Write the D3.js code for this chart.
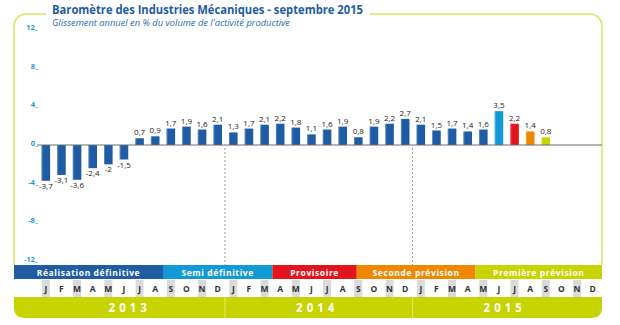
<!DOCTYPE html>
<html><head><meta charset="utf-8">
<script src="https://cdn.jsdelivr.net/npm/d3@7"></script>
<style>
html,body{margin:0;padding:0;background:#fff;}
svg{display:block;}
text{font-family:"Open Sans","Noto Sans",sans-serif;}
</style></head>
<body><svg id="c" width="620" height="325"></svg>
<script>
// ---- data ----
const monthLetters = ["J","F","M","A","M","J","J","A","S","O","N","D"];
const years = ["2013","2014","2015"];
const values2013 = [-3.7,-3.1,-3.6,-2.4,-2,-1.5,0.7,0.9,1.7,1.9,1.6,2.1];
const values2014 = [1.3,1.7,2.1,2.2,1.8,1.1,1.6,1.9,0.8,1.9,2.2,2.7];
const values2015 = [2.1,1.5,1.7,1.4,1.6,3.5,2.2,1.4,0.8];
// status of each 2015 bar (index into statusNames); earlier bars are all definitive
const barStatus2015 = [0,0,0,0,0,1,2,3,4];
const statusNames = ["Réalisation définitive","Semi définitive","Provisoire","Seconde prévision","Première prévision"];
// extent of each status in the legend strip, in months from Jan 2013
const statusStart = [0,8,15,20.4,28];
const statusEnd = [8,15,20.4,28,36];
const yTicks = [12,8,4,0,-4,-8,-12];
const title = "Baromètre des Industries Mécaniques - septembre 2015";
const subtitle = "Glissement annuel en % du volume de l'activité productive";

// ---- styles ----
const statusColors = ["#1f5ca4","#129ad7","#e2151f","#f08700","#c8d400"];
const frameColor = "#dbe35c";

const svg = d3.select("#c");
const months = [];
years.forEach(y => monthLetters.forEach((m,i) => months.push({y, m, i})));
const values = values2013.concat(values2014, values2015);
const status = values2013.map(()=>0).concat(values2014.map(()=>0), barStatus2015);
const bars = values.map((v,i)=>({v, i, s: status[i]}));

const x = d3.scaleBand().domain(d3.range(36)).range([38, 600.5]).paddingInner(0.45).paddingOuter(0.225);
const step = x.step();
const xl = k => x.range()[0] + k*step; // month boundary position
const y = d3.scaleLinear().domain([-12,12]).range([261,29]);

const L = 14, R = 602, T = 14, r = 14;
// frame
svg.append("path")
  .attr("d", `M${L},265 L${L},${T+r} Q${L},${T} ${L+r},${T} L${R-r},${T} Q${R},${T} ${R},${T+r} L${R},265`)
  .attr("fill","none").attr("stroke",frameColor).attr("stroke-width",1.5);

// title
svg.append("rect").attr("x",46).attr("y",0).attr("width",324).attr("height",28).attr("fill","#fff");
svg.append("text").attr("x",52).attr("y",13.5).attr("fill","#1f5ca4").attr("font-weight","bold")
  .attr("font-family","'Liberation Sans',Arial,sans-serif")
  .attr("font-size",13).attr("textLength",311).attr("lengthAdjust","spacingAndGlyphs").text(title);
svg.append("text").attr("x",52).attr("y",26).attr("fill","#1f6cb0").attr("font-style","italic")
  .attr("font-family","'Liberation Sans',Arial,sans-serif")
  .attr("font-size",8.5).attr("textLength",238).attr("lengthAdjust","spacingAndGlyphs").text(subtitle);

// y tick labels
svg.append("g").selectAll("text").data(yTicks).join("text")
  .attr("x",38).attr("y",d=>y(d)+1).attr("text-anchor","end")
  .attr("fill","#1a9ad6").attr("font-weight","bold").attr("font-size",7.5)
  .text(d=>d+"_");

// dashed year separators
[12,24].forEach(k=>{
  svg.append("line").attr("x1",xl(k)-0.5).attr("x2",xl(k)-0.5).attr("y1",y(0)+3).attr("y2",265)
    .attr("stroke","#9a9a9a").attr("stroke-dasharray","2,2").attr("stroke-width",1);
});

// bars
svg.append("g").selectAll("rect").data(bars).join("rect")
  .attr("x",d=>x(d.i)).attr("width",x.bandwidth())
  .attr("y",d=>y(Math.max(0,d.v))).attr("height",d=>Math.abs(y(d.v)-y(0)))
  .attr("fill",d=>statusColors[d.s]);
// light edge
svg.append("g").selectAll("rect").data(bars).join("rect")
  .attr("x",d=>x(d.i)).attr("width",1)
  .attr("y",d=>y(Math.max(0,d.v))).attr("height",d=>Math.abs(y(d.v)-y(0)))
  .attr("fill","#fff").attr("opacity",0.25);

// zero axis
svg.append("line").attr("x1",37).attr("x2",R).attr("y1",y(0)).attr("y2",y(0))
  .attr("stroke","#6d6d6d").attr("stroke-width",1);

// value labels
const fmt = v => String(v).replace(".",",");
svg.append("g").selectAll("text").data(bars).join("text")
  .attr("x",d=>x(d.i)+x.bandwidth()/2)
  .attr("y",d=>d.v>=0 ? y(d.v)-3 : y(d.v)+8)
  .attr("text-anchor","middle").attr("font-size",8).attr("fill","#222")
  .attr("font-family","'Liberation Sans Narrow','Open Sans',sans-serif")
  .text(d=>fmt(d.v));

// status legend strip
const sy = 265, sh = 14;
statusNames.forEach((n,k)=>{
  const x0 = k===0 ? L : xl(statusStart[k]);
  const x1 = k===statusNames.length-1 ? R : xl(statusEnd[k]);
  svg.append("rect").attr("x",x0).attr("y",sy).attr("width",x1-x0).attr("height",sh).attr("fill",statusColors[k]);
  svg.append("text").attr("x",(x0+x1)/2).attr("y",sy+10.5).attr("text-anchor","middle")
    .attr("fill","#fff").attr("font-weight","bold").attr("font-size",8.5).attr("letter-spacing",0.6)
    .text(n);
});

// month row
const my = 280, mh = 17;
svg.append("g").selectAll("rect").data(months.filter(d=>d.i%2===0)).join("rect")
  .attr("x",d=>x(months.indexOf(d))+x.bandwidth()/2-4).attr("width",8)
  .attr("y",my).attr("height",mh).attr("fill","#dadada");
svg.append("g").selectAll("text").data(months).join("text")
  .attr("x",(d,k)=>x(k)+x.bandwidth()/2).attr("y",my+12)
  .attr("text-anchor","middle").attr("font-weight","bold").attr("font-size",8.5).attr("fill","#333")
  .text(d=>d.m);

// year band
const yy = 297, yh = 21, rr = 11;
svg.append("path")
  .attr("d",`M${L},${yy} L${R},${yy} L${R},${yy+yh-rr} Q${R},${yy+yh} ${R-rr},${yy+yh} L${L+rr},${yy+yh} Q${L},${yy+yh} ${L},${yy+yh-rr} Z`)
  .attr("fill","#c8d400");
[12,24].forEach(k=>{
  svg.append("line").attr("x1",xl(k)-0.5).attr("x2",xl(k)-0.5).attr("y1",yy).attr("y2",yy+yh)
    .attr("stroke","#fff").attr("stroke-opacity",0.45).attr("stroke-width",1);
});
years.forEach((yr,k)=>{
  svg.append("text").attr("x",(xl(k*12)+xl(k*12+12))/2 - 2).attr("y",yy+15)
    .attr("text-anchor","middle").attr("fill","#fff").attr("font-weight","bold")
    .attr("font-size",11.5).attr("letter-spacing",4).text(yr);
});
</script></body></html>
